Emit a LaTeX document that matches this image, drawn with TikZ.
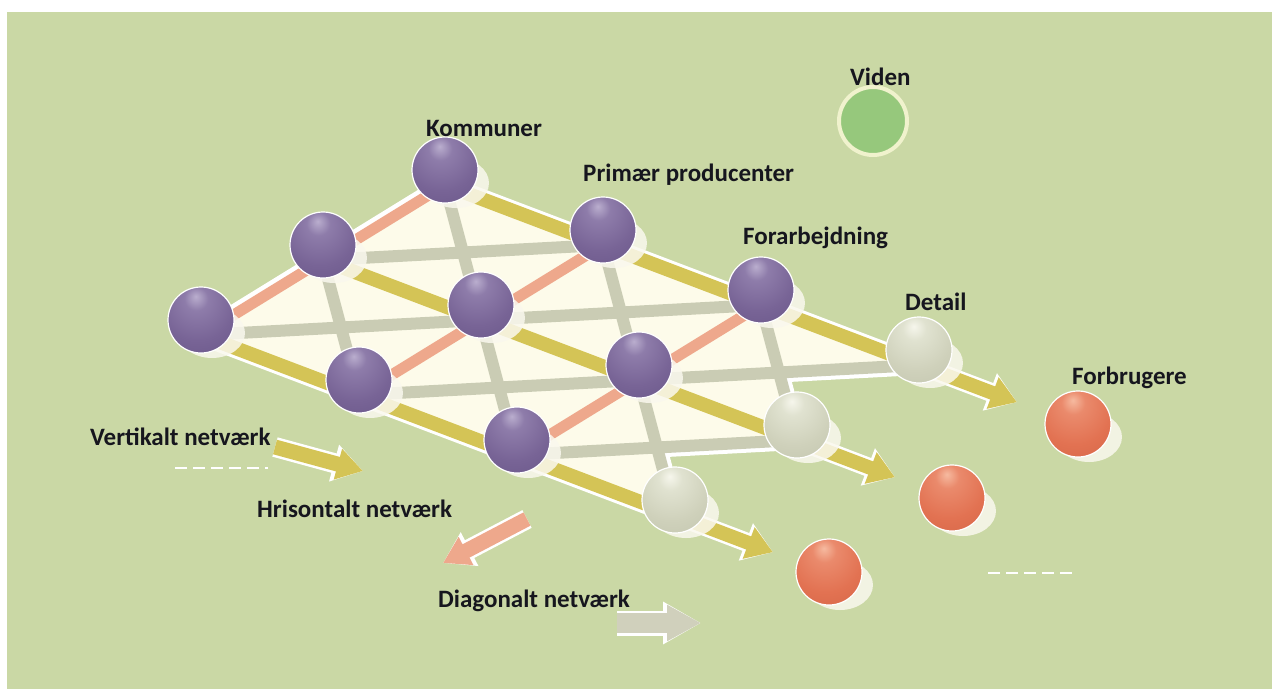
\documentclass[tikz,border=0pt]{standalone}
\usepackage{fontspec}
\setmainfont{Carlito}
\usetikzlibrary{arrows.meta,calc}
\definecolor{bg}{RGB}{202,216,165}
\definecolor{cream}{RGB}{253,251,234}
\definecolor{ylw}{RGB}{212,196,86}
\definecolor{slm}{RGB}{238,168,140}
\definecolor{gry}{RGB}{202,204,180}
\definecolor{gryarr}{RGB}{208,208,188}
\definecolor{txt}{RGB}{22,22,30}
\definecolor{vgreen}{RGB}{150,200,124}
\definecolor{vring}{RGB}{240,242,205}
\definecolor{shadc}{RGB}{250,248,238}
\definecolor{pHi}{RGB}{186,174,206}
\definecolor{pMid}{RGB}{142,124,170}
\definecolor{pBase}{RGB}{120,100,150}
\definecolor{pDark}{RGB}{96,78,128}
\definecolor{bHi}{RGB}{246,246,236}
\definecolor{bMid}{RGB}{224,226,208}
\definecolor{bBase}{RGB}{207,209,187}
\definecolor{bDark}{RGB}{186,190,166}
\definecolor{oHi}{RGB}{246,186,160}
\definecolor{oMid}{RGB}{234,138,108}
\definecolor{oBase}{RGB}{226,114,82}
\definecolor{oDark}{RGB}{204,94,64}
\pgfdeclareradialshading{purpleball}{\pgfpoint{-4bp}{18bp}}{color(0bp)=(pHi); color(9bp)=(pMid); color(28bp)=(pBase); color(58bp)=(pDark); color(90bp)=(pDark)}
\pgfdeclareradialshading{beigeball}{\pgfpoint{-4bp}{18bp}}{color(0bp)=(bHi); color(9bp)=(bMid); color(28bp)=(bBase); color(58bp)=(bDark); color(90bp)=(bDark)}
\pgfdeclareradialshading{orangeball}{\pgfpoint{-4bp}{18bp}}{color(0bp)=(oHi); color(9bp)=(oMid); color(28bp)=(oBase); color(58bp)=(oDark); color(90bp)=(oDark)}
\begin{document}
\begin{tikzpicture}[x=1pt,y=-1pt,
  sph/.style={circle, inner sep=0pt, minimum size=66pt, draw=white, line width=1.2pt},
  psph/.style={sph, shading=purpleball},
  bsph/.style={sph, shading=beigeball},
  osph/.style={sph, shading=orangeball},
  shad/.style={fill=shadc, opacity=0.85},
  grayline/.style={draw=gry, line width=12pt, line cap=round},
  orangeline/.style={draw=slm, line width=11pt, line cap=round},
  yellowarrow/.style={draw=ylw, line width=14pt, -{Triangle[width=32pt,length=26pt]}},
  haloarrow/.style={draw=white, line width=19pt, -{Triangle[width=38pt,length=29pt]}},
  lab/.style={anchor=base west, inner sep=0pt, text=txt, font=\fontsize{25}{30}\selectfont\bfseries},
  dashw/.style={draw=white, line width=1.6pt, dash pattern=on 12pt off 6pt}
]
\useasboundingbox (0,0) rectangle (1272,689);
\fill[white] (0,0) rectangle (1272,689);
\fill[bg] (7,12) rectangle (1272,689);

% lattice floor points
\foreach \i in {0,...,3}
  \foreach \j in {0,1,2}
    \coordinate (f\i\j) at ({201+158*\i+122*\j},{335+60*\i-75*\j});
\coordinate (ma) at ({201+158*2.5+122*1.5},{335+60*2.5-75*1.5});
\coordinate (mb) at ({201+158*2.5+122*0.5},{335+60*2.5-75*0.5});
\foreach \j in {0,1,2}
  \coordinate (e\j) at ({201+158*3.62+122*\j},{335+60*3.62-75*\j});

% cream field
\filldraw[fill=cream, draw=white, line width=20pt, line join=round]
  (f00) -- (f02) -- (f32) -- (ma) -- (f31) -- (mb) -- (f30) -- cycle;
\fill[cream] (f00) -- (f02) -- (f32) -- (ma) -- (f31) -- (mb) -- (f30) -- cycle;

% halos of yellow arrows outside the field
\foreach \j in {0,1,2}
  \draw[haloarrow] (f3\j) -- (e\j);

% diagonal (gray) lines
\draw[grayline] (f00) -- (f22);
\draw[grayline] (f01) -- (f12);
\draw[grayline] (f10) -- (f32);
\draw[grayline] (f20) -- (f31);
\draw[grayline] (f01) -- (f10);
\draw[grayline] (f02) -- (f20);
\draw[grayline] (f12) -- (f30);
\draw[grayline] (f22) -- (f31);
% horizontal (orange) lines
\draw[orangeline] (f00) -- (f02);
\draw[orangeline] (f10) -- (f12);
\draw[orangeline] (f20) -- (f22);
% vertical (yellow) arrows
\foreach \j in {0,1,2}
  \draw[yellowarrow] (f0\j) -- (e\j);

% sphere centres
\foreach \i in {0,...,3}
  \foreach \j in {0,1,2}
    \coordinate (c\i\j) at ($(f\i\j)+(0,-15)$);
\coordinate (o0) at (829,572);
\coordinate (o1) at (952,498);
\coordinate (o2) at (1078,424);

% shadows
\foreach \c in {c00,c01,c02,c10,c11,c12,c20,c21,c22,c30,c31,c32,o0,o1,o2}
  \fill[shad] ($(\c)+(11,13)$) ellipse [x radius=33, y radius=25];

% spheres
\node[psph] (s00) at (c00) {};
\node[psph] (s01) at (c01) {};
\node[psph] (s02) at (c02) {};
\node[psph] (s10) at (c10) {};
\node[psph] (s11) at (c11) {};
\node[psph] (s12) at (c12) {};
\node[psph] (s20) at (c20) {};
\node[psph] (s21) at (c21) {};
\node[psph] (s22) at (c22) {};
\node[bsph] (s30) at (c30) {};
\node[bsph] (s31) at (c31) {};
\node[bsph] (s32) at (c32) {};
\node[osph] (so0) at (o0) {};
\node[osph] (so1) at (o1) {};
\node[osph] (so2) at (o2) {};

% Viden
\node[circle, inner sep=0pt, minimum size=68pt, fill=vgreen, draw=vring, line width=4pt] (viden) at (873,121) {};

% labels
\node[lab] (lkom) at (426,136) {Kommuner};
\node[lab] (lpri) at (583,181) {Primær producenter};
\node[lab] (lfor) at (743,244) {Forarbejdning};
\node[lab] (ldet) at (905,310) {Detail};
\node[lab] (lfbr) at (1072,384) {Forbrugere};
\node[lab] (lvid) at (850,85) {Viden};
\node[lab] (lver) at (90,445) {Vertikalt netværk};
\node[lab] (lhor) at (257,517) {Hrisontalt netværk};
\node[lab] (ldia) at (438,607) {Diagonalt netværk};

% legend arrows
\coordinate (ya) at (275,447); \coordinate (yb) at (363,471);
\coordinate (oa) at (527,519); \coordinate (ob) at (443,563);
\coordinate (ga) at (617,623); \coordinate (gb) at (701,623);
\draw[draw=white, line width=20pt, -{Triangle[width=36pt,length=30pt]}] (ya) -- (yb);
\draw[draw=ylw, line width=15pt, -{Triangle[width=30pt,length=26pt]}] (ya) -- (yb);
\draw[draw=white, line width=20pt, -{Triangle[width=36pt,length=30pt]}] (oa) -- (ob);
\draw[draw=slm, line width=15pt, -{Triangle[width=30pt,length=26pt]}] (oa) -- (ob);
\draw[draw=white, line width=25pt, -{Triangle[width=40pt,length=38pt]}] (ga) -- (gb);
\draw[draw=gryarr, line width=20pt, -{Triangle[width=34pt,length=34pt]}] (ga) -- (gb);

% white dashes
\coordinate (d1a) at (175,468); \coordinate (d1b) at (268,468);
\coordinate (d2a) at (988,573); \coordinate (d2b) at (1076,573);
\draw[dashw] (d1a) -- (d1b);
\draw[dashw] (d2a) -- (d2b);
\end{tikzpicture}
\end{document}
